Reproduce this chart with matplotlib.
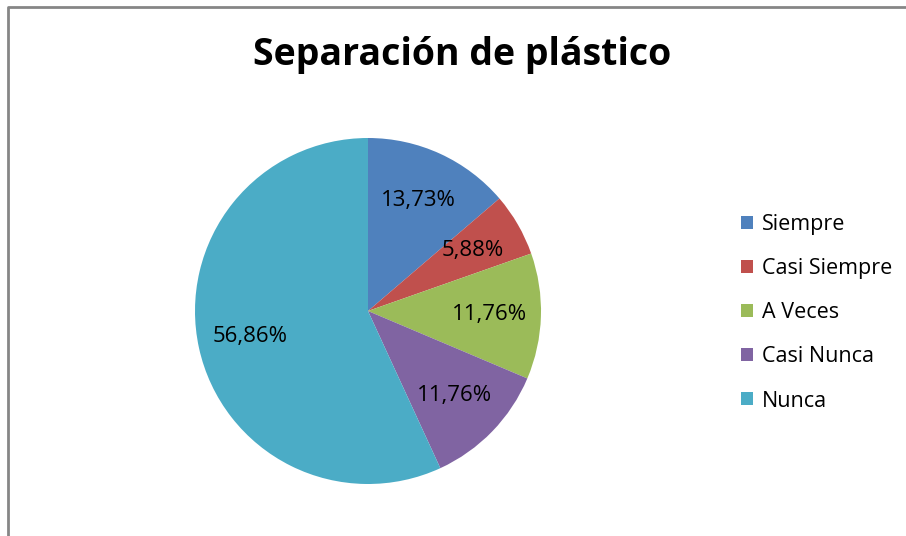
import matplotlib.pyplot as plt
import matplotlib.patches as patches
from matplotlib.lines import Line2D

categories = ['Siempre', 'Casi Siempre', 'A Veces', 'Casi Nunca', 'Nunca']
percentages = [13.73, 5.88, 11.76, 11.76, 56.86]
colors = ['#4F81BD', '#C0504D', '#9BBB59', '#8064A2', '#4BACC6']
title = 'Separación de plástico'

plt.rcParams['font.family'] = ['Open Sans', 'DejaVu Sans']

W, H = 906, 536
fig = plt.figure(figsize=(W / 100, H / 100), dpi=100)

# chart frame: only top and left edges are inside the picture
fig.add_artist(Line2D([8 / W, 8 / W, 1.0], [0.0, 1 - 7 / H, 1 - 7 / H],
                      transform=fig.transFigure, color='#868686', linewidth=2))

cx, cy, r = 368, 311, 173
ax = fig.add_axes([(cx - r) / W, (H - cy - r) / H, 2 * r / W, 2 * r / H])
wedges, texts, autotexts = ax.pie(percentages, colors=colors, startangle=90,
                                  counterclock=False, autopct='%1.2f%%',
                                  pctdistance=0.70, radius=1,
                                  textprops={'fontsize': 16, 'color': '#000000'})
for t, p in zip(autotexts, percentages):
    t.set_text(f'{p:.2f}%'.replace('.', ','))
ax.set_xlim(-1, 1)
ax.set_ylim(-1, 1)
ax.set_aspect('equal')
ax.axis('off')

fig.text(462 / W, 1 - 55 / H, title, ha='center', va='center',
         fontsize=27, fontweight='bold')

handles = [patches.Patch(facecolor=c, edgecolor='none') for c in colors]
fig.legend(handles, categories, loc='upper left',
           bbox_to_anchor=(722 / W, 1 - 195 / H), frameon=False,
           fontsize=15.5, handlelength=0.55, handleheight=0.55,
           handletextpad=0.4, labelspacing=1.07)

plt.savefig('out.png', dpi=100)
plt.close()
